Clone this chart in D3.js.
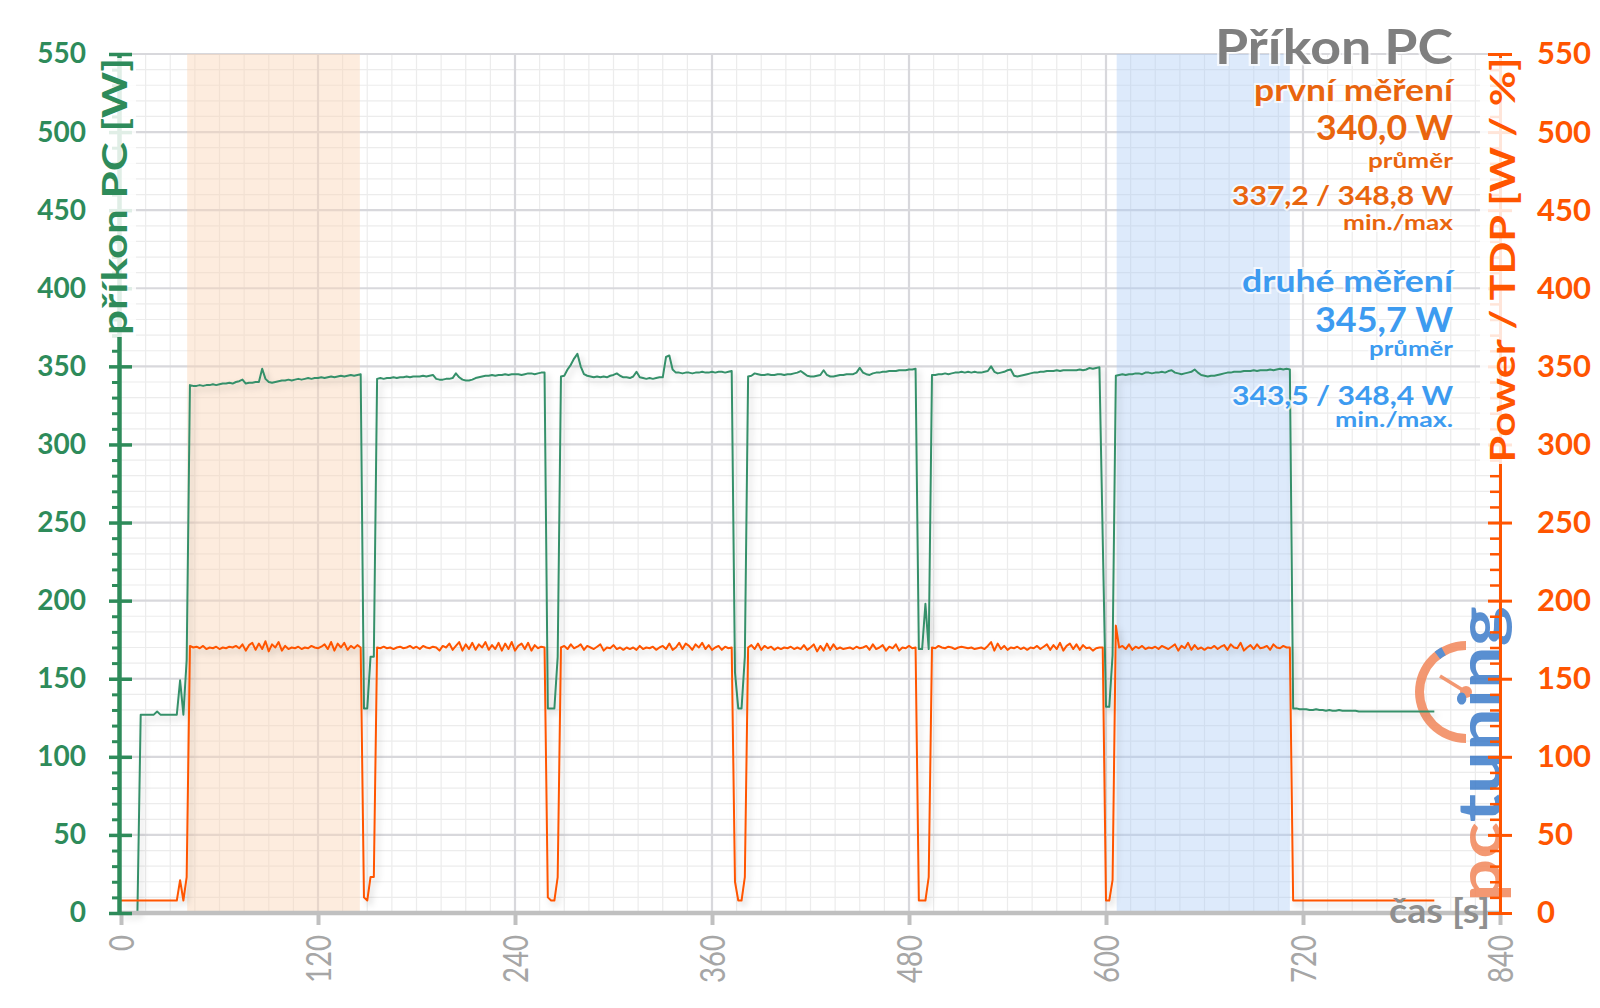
<!DOCTYPE html>
<html><head><meta charset="utf-8">
<script src="https://cdn.jsdelivr.net/npm/d3@7"></script>
<style>html,body{margin:0;padding:0;background:#fff;} svg{display:block;font-family:Lato,"Open Sans",sans-serif;}</style>
</head><body><svg id="chart" width="1600" height="1008"></svg>
<script>
// ---------------- DATA ----------------
const sampleStep = 2; // seconds between samples
const pcPower = [
0,0,0,0,0,0,
127,127,127,127,127,129,127,127,127,127,127,127,
149,127,162,
338,337.5,337.5,338,337.5,338,338,338.5,338,338.5,
339,339,339.5,339,340,340.5,341.5,339,339.5,339.5,
340,340,348.5,342,340,339.5,340,340.5,341,341,
341.5,341,341.5,342,341.5,342,342.5,342,342.5,342.5,
343,342.5,343,343.5,343,343.5,344,343.5,344,344.5,
344,344.5,345,
131,131,164,164,
342,342.5,342,342.5,342.5,343,342.5,343,343,343.5,
343,343.5,343.5,343.5,344,343.5,344,344.5,342,341.5,
341.5,342,342,342.5,345.5,343,341.5,341,341,341.5,
342.5,343,343.5,344,344,344.5,344,344.5,344.5,345,
344.5,345,345,345,344.5,345,345.5,345.5,345,345.5,
346,346,
131,131,131,164,
343.5,344,348,351,355,358,350,345,344,343.5,
343,343.5,343,343.5,343,344,344.5,345.5,344,343,
343,342.5,343.5,346.5,343,342.5,342,342.5,342,342.5,
343,343,356,357,348,346,346,345.5,346,346,
345.5,346,346,346.5,346,346,346.5,346,346.5,346.5,
346,346.5,347,
154,131,131,164,
343.5,344,345.5,345,344.5,344.5,345,344.5,344.5,345,
345,344.5,345,345,345.5,346,347,345.5,344,343.5,
343.5,344,344.5,347.5,344.5,343.5,343.5,344,344.5,344.5,
345,345,345,346,349,346,345,344.5,345.5,346,
346,346.5,346.5,347,347,347,347.5,347.5,347.5,348,
348,348.5,
169,169,198,169,
344.5,344.5,345,345,345.5,345,345.5,346,346,346.5,
346,346.5,346,346.5,346,346,346.5,347,350,346.5,
345.5,346,346.5,347.5,348,344,343.5,344,344.5,345,
345.5,346,346,346.5,346.5,347,347,347,347.5,347,
347.5,347.5,347.5,347.5,347.5,348,347.5,348,349,348.5,
349,349.5,
240,132,132,165,
344,344.5,345,344.5,345,345,345.5,345.5,345,346,
346,345.5,346,346,346.5,346,347,347.5,346,345.5,
345,345.5,346,346.5,348,346,344.5,344,343.5,344,
344,344.5,345,345.5,346,346,346.5,346.5,346.5,347,
347,347,347.5,347,347.5,347.5,347.5,348,347.5,348,
348.5,348,348.5,348,
131,131,130.5,130.5,130.5,130,130,130.5,130,130,
129.5,130,129.5,129.5,130,129.5,129.5,129.5,129.5,129.5,
129,129,129,129,129,129,129,129,129,129,
129,129,129,129,129,129,129,129,129,129,
129,129,129,129
];
const cpuPower = [
8,8,8,8,8,8,8,8,8,8,8,8,8,8,8,8,8,8,
21,8,23,
171,170,170.5,169.5,171,169,170,169.5,170.5,169,
170,169.5,170.5,170,171,169.5,172,168,171.5,173,
168.5,172.5,169,174,167.5,172,170,173.5,168,171,
169,170,169.5,170.5,169,170,169.5,171,170,169.5,
170.5,172,169,173.5,168,172.5,170,173,168.5,171,
169.5,171.5,170,
10,8,23,23,
170,169.5,170.5,169.5,170,169,170,170.5,169.5,170,
171,169.5,170.5,169,171,170,169.5,170.5,170,168,
171,170,172.5,168.5,171,173.5,168,172,169,173,
168.5,172,170,173.5,168.5,171.5,169,173,168,172.5,
169,173.5,168,171,172.5,169,173,168,171.5,169.5,
170.5,170,
10,8,8,23,
170,171,169,172,169.5,170.5,172,168.5,171,170,
169,170.5,172,168,170,169.5,171.5,169,170,168.5,
170,169,170,168.5,171,169,170,169.5,170.5,168.5,
170,171,169,172.5,168.5,170,173,169,172.5,171,
168.5,172,170,173,169,171.5,168.5,170,171,168.5,
170.5,169.5,170,
20,8,8,23,
170,171.5,169,172.5,168.5,171,169.5,170.5,168.5,170,
169,170,169.5,170.5,169,170,169,171.5,168.5,170,
172,167.5,171,168,172.5,168.5,172,169,170,169,
169.5,170,169,170.5,169.5,170,171,168.5,172,169,
170,171.5,168,170.5,169.5,172,168,170,169.5,171,
169.5,170,
8,8,8,23,
170,169.5,171,170,169.5,170.5,170,169,170,170.5,
170,169.5,170,169,169.5,170,169,171,173.5,168,
172.5,169,171,168.5,170,169.5,170.5,169,170,168.5,
170,169.5,171,169,170.5,172,168.5,171.5,169,173,
168,171,172.5,169,172,168.5,171.5,169.5,170,168,
169.5,170,
170,8,8,21,
184,170,171,169,172,168.5,170.5,169.5,171,169,
170,169.5,170.5,169,171,170,169,170.5,172,168,
171,169.5,173,168.5,171.5,169,170,168.5,170,169.5,
171,169,170.5,171.5,168.5,172,170,169.5,173,168,
170,171.5,169,172,169.5,170,171,168.5,172,170,
169.5,171,170,170,
8,8,8,8,8,8,8,8,8,8,
8,8,8,8,8,8,8,8,8,8,
8,8,8,8,8,8,8,8,8,8,
8,8,8,8,8,8,8,8,8,8,
8,8,8,8
];
const xTicks = [0,120,240,360,480,600,720,840];
const yTicks = [0,50,100,150,200,250,300,350,400,450,500,550];
const firstRun = [40.3, 145.5];
const secondRun = [606.5, 712];
const titleText = "Příkon PC";
const firstLabels = ["první měření","340,0 W","průměr","337,2 / 348,8 W","min./max"];
const secondLabels = ["druhé měření","345,7 W","průměr","343,5 / 348,4 W","min./max."];
const leftTitle = "příkon PC [W]";
const rightTitle = "Power / TDP [W / %]";
const xTitle = "čas [s]";

// ---------------- DRAW ----------------
const GREEN = "#2e8b5a", LINEGREEN = "#36906a", ORANGE = "#ff5500", TXTORANGE = "#e9650e", BLUE = "#3d9bf0", GRAY = "#8f8f8f";
const svg = d3.select("#chart");
const defs = svg.append("defs");
defs.append("filter").attr("id","sh").attr("x","-5%").attr("y","-5%").attr("width","110%").attr("height","115%")
  .append("feDropShadow").attr("dx",3).attr("dy",4).attr("stdDeviation",3).attr("flood-color","#000").attr("flood-opacity",0.18);

const x = d3.scaleLinear().domain([0, 840]).range([121, 1500]);
const y = d3.scaleLinear().domain([0, 550]).range([913, 54]);
const [y0, y1] = y.range();

// grid
const grid = svg.append("g");
grid.selectAll(".vmin").data(d3.range(0, 841, 15).filter(d => d % 120)).join("line")
  .attr("x1", d => x(d)).attr("x2", d => x(d)).attr("y1", y1).attr("y2", y0)
  .attr("stroke", "#ececec").attr("stroke-width", 1.2);
grid.selectAll(".hmin").data(d3.range(0, 551, 10).filter(d => d % 50)).join("line")
  .attr("x1", x(0)).attr("x2", x(840)).attr("y1", d => y(d)).attr("y2", d => y(d))
  .attr("stroke", "#ececec").attr("stroke-width", 1.2);
grid.selectAll(".vmaj").data(xTicks.slice(1)).join("line")
  .attr("x1", d => x(d)).attr("x2", d => x(d)).attr("y1", y1).attr("y2", y0)
  .attr("stroke", "#d8d8dc").attr("stroke-width", 2.2);
grid.selectAll(".hmaj").data(yTicks.slice(1)).join("line")
  .attr("x1", x(0)).attr("x2", x(840)).attr("y1", d => y(d)).attr("y2", d => y(d))
  .attr("stroke", "#d8d8dc").attr("stroke-width", 2.2);

// bands
svg.append("rect").attr("x", x(firstRun[0])).attr("width", x(firstRun[1]) - x(firstRun[0]))
  .attr("y", y1).attr("height", y0 - y1).attr("fill", "#fbd5b5").attr("opacity", 0.45);
svg.append("rect").attr("x", x(secondRun[0])).attr("width", x(secondRun[1]) - x(secondRun[0]))
  .attr("y", y1).attr("height", y0 - y1).attr("fill", "#a9cbf5").attr("opacity", 0.4);

// watermark logo
const logo = svg.append("g").attr("opacity", 0.85);
const gauge = logo.append("g").attr("transform", "translate(1466,692)");
gauge.append("path").attr("d", d3.arc().innerRadius(42).outerRadius(51).startAngle(Math.PI).endAngle(2 * Math.PI)()).attr("fill", "#f2875a");
gauge.append("path").attr("d", d3.arc().innerRadius(42).outerRadius(51).startAngle(5.62).endAngle(5.78)()).attr("fill", "#3d7cc9");
gauge.append("line").attr("x1", 0).attr("y1", 0).attr("x2", -26).attr("y2", -16).attr("stroke", "#f2875a").attr("stroke-width", 3.5);
gauge.append("circle").attr("r", 6).attr("fill", "#f2875a");
const logoText = logo.append("text").attr("transform", "translate(1501,902) rotate(-90)")
  .attr("font-size", 60).attr("font-weight", 700).attr("textLength", 296).attr("lengthAdjust", "spacingAndGlyphs");
logoText.append("tspan").attr("fill", "#f2875a").text("pc");
logoText.append("tspan").attr("fill", "#3d7cc9").text("tuning");

// series
const line = d3.line().x((d, i) => x(i * sampleStep)).y(d => y(d));
svg.append("path").datum(pcPower).attr("d", line).attr("fill", "none")
  .attr("stroke", LINEGREEN).attr("stroke-width", 2).attr("stroke-linejoin", "round").attr("filter", "url(#sh)");
svg.append("path").datum(cpuPower).attr("d", line).attr("fill", "none")
  .attr("stroke", ORANGE).attr("stroke-width", 2).attr("stroke-linejoin", "round").attr("filter", "url(#sh)");

// bottom axis
const xAxis = svg.append("g").attr("transform", `translate(0,${y0})`)
  .call(d3.axisBottom(x).tickValues(xTicks).tickSize(12).tickSizeOuter(0));
xAxis.select(".domain").remove();
xAxis.selectAll(".tick line").attr("stroke", "#c0c0c0").attr("stroke-width", 4);
xAxis.selectAll(".tick text").attr("transform", "rotate(-90)").attr("x", -22).attr("y", 0).attr("dy", "0.36em")
  .style("text-anchor", "end").attr("fill", "#a6a6a6").attr("font-size", 34).attr("font-family", "Lato")
  .attr("textLength", d => String(d).length * 16).attr("lengthAdjust", "spacingAndGlyphs");
svg.append("line").attr("x1", x(0) - 3).attr("x2", x(840)).attr("y1", y0).attr("y2", y0)
  .attr("stroke", "#c0c0c0").attr("stroke-width", 4.5);

// left axis
const minorTicks = d3.range(0, 551, 10).filter(d => d % 50);
const lMinor = svg.append("g").attr("transform", "translate(120,0)")
  .call(d3.axisLeft(y).tickValues(minorTicks).tickSize(8).tickFormat(""));
lMinor.select(".domain").remove();
lMinor.selectAll("line").attr("stroke", GREEN).attr("stroke-width", 3);
svg.append("line").attr("x1", 119.5).attr("x2", 119.5).attr("y1", y1).attr("y2", y0 + 2)
  .attr("stroke", GREEN).attr("stroke-width", 4.5);
const lMajor = svg.append("g").attr("transform", "translate(132,0)")
  .call(d3.axisLeft(y).tickValues(yTicks).tickSize(23).tickPadding(23));
lMajor.select(".domain").remove();
lMajor.selectAll("line").attr("stroke", GREEN).attr("stroke-width", 3.5);
lMajor.selectAll("text").attr("fill", GREEN).attr("font-size", 28).attr("font-weight", 700).attr("font-family", "Lato");

// right axis
const rMinor = svg.append("g").attr("transform", "translate(1490,0)")
  .call(d3.axisRight(y).tickValues(minorTicks).tickSize(10).tickFormat(""));
rMinor.select(".domain").remove();
rMinor.selectAll("line").attr("stroke", ORANGE).attr("stroke-width", 2.5);
svg.append("line").attr("x1", 1500.5).attr("x2", 1500.5).attr("y1", y1).attr("y2", y0 + 2)
  .attr("stroke", ORANGE).attr("stroke-width", 3);
const rMajor = svg.append("g").attr("transform", "translate(1488,0)")
  .call(d3.axisRight(y).tickValues(yTicks).tickSize(24).tickPadding(25));
rMajor.select(".domain").remove();
rMajor.selectAll("line").attr("stroke", ORANGE).attr("stroke-width", 3);
rMajor.selectAll("text").attr("fill", ORANGE).attr("font-size", 31).attr("font-weight", 700).attr("font-family", "Lato");

// axis titles with whitish backing
svg.append("rect").attr("x", 96).attr("y", 58).attr("width", 40).attr("height", 279).attr("fill", "#fff").attr("opacity", 0.85);
svg.append("text").attr("transform", "translate(127,196.5) rotate(-90)").attr("text-anchor", "middle")
  .attr("fill", GREEN).attr("font-size", 34).attr("font-weight", 700)
  .attr("textLength", 277).attr("lengthAdjust", "spacingAndGlyphs").text(leftTitle);
svg.append("rect").attr("x", 1480).attr("y", 58).attr("width", 45).attr("height", 406).attr("fill", "#fff").attr("opacity", 0.85);
svg.append("text").attr("transform", "translate(1515,260) rotate(-90)").attr("text-anchor", "middle")
  .attr("fill", ORANGE).attr("font-size", 34).attr("font-weight", 700)
  .attr("textLength", 405).attr("lengthAdjust", "spacingAndGlyphs").text(rightTitle);

// x-axis title
svg.append("text").attr("x", 1490).attr("y", 923).attr("text-anchor", "end")
  .attr("fill", GRAY).attr("font-size", 34).attr("font-weight", 700)
  .attr("textLength", 101).attr("lengthAdjust", "spacingAndGlyphs").text(xTitle);

// summary texts
const tx = 1453;
function addText(str, yy, size, len, color) {
  svg.append("text").attr("x", tx).attr("y", yy).attr("text-anchor", "end")
    .attr("fill", color).attr("font-size", size).attr("font-weight", 700)
    .attr("stroke", "#fff").attr("stroke-width", 4).attr("stroke-opacity", 0.7).attr("paint-order", "stroke")
    .attr("textLength", len).attr("lengthAdjust", "spacingAndGlyphs").text(str);
}
addText(titleText, 64, 47, 238, "#7f7f7f");
const sizes = [31, 34, 21, 26, 21];
const firstY = [101, 140, 168, 205, 230], secondY = [292, 332, 356, 405, 427];
const firstLen = [199, 137, 85, 221, 110], secondLen = [211, 138, 84, 221, 118];
firstLabels.forEach((s, i) => addText(s, firstY[i], sizes[i], firstLen[i], TXTORANGE));
secondLabels.forEach((s, i) => addText(s, secondY[i], sizes[i], secondLen[i], BLUE));
</script></body></html>
